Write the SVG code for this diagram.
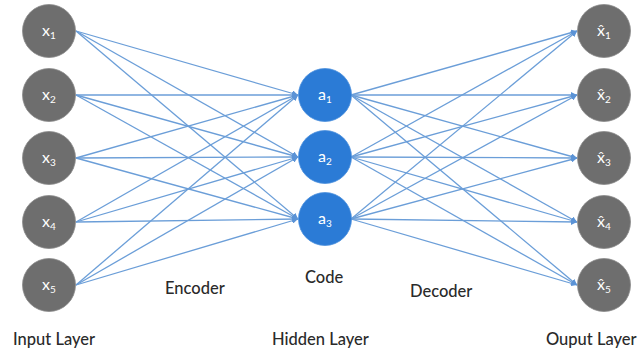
<svg xmlns="http://www.w3.org/2000/svg" width="640" height="351" viewBox="0 0 640 351">
  <style>
    .edge { stroke: #6b9ed8; stroke-width: 1.3; fill: none; marker-end: url(#arrow); }
    .in, .out { fill: #6e6e6e; stroke: #8a8a8a; stroke-width: 0.8; }
    .hid { fill: #2b7bd6; stroke: #4d90dd; stroke-width: 0.8; }
    .lbl { fill: #ffffff; font-family: Lato, "Open Sans", "Liberation Sans", sans-serif; font-size: 16px; text-anchor: middle; }
    .sub { font-size: 10px; }
    .cap { fill: #2a2a2a; font-family: Lato, "Open Sans", "Liberation Sans", sans-serif; font-size: 16.5px; font-weight: 500; }
  </style>
  <defs>
    <marker id="arrow" viewBox="0 0 10 10" refX="10" refY="5" markerWidth="6" markerHeight="6" markerUnits="userSpaceOnUse" orient="auto">
      <path d="M0,0 L10,5 L0,10 z" fill="#5b93d6"/>
    </marker>
  </defs>

  <rect width="640" height="351" fill="#ffffff"/>

  <g id="connectors">
    <!-- encoder: every input to every hidden unit -->
    <line class="edge" x1="76" y1="31" x2="298" y2="95"/>
    <line class="edge" x1="76" y1="31" x2="298" y2="157"/>
    <line class="edge" x1="76" y1="31" x2="298" y2="219"/>
    <line class="edge" x1="76" y1="95" x2="298" y2="95"/>
    <line class="edge" x1="76" y1="95" x2="298" y2="157"/>
    <line class="edge" x1="76" y1="95" x2="298" y2="219"/>
    <line class="edge" x1="76" y1="158" x2="298" y2="95"/>
    <line class="edge" x1="76" y1="158" x2="298" y2="157"/>
    <line class="edge" x1="76" y1="158" x2="298" y2="219"/>
    <line class="edge" x1="76" y1="222" x2="298" y2="95"/>
    <line class="edge" x1="76" y1="222" x2="298" y2="157"/>
    <line class="edge" x1="76" y1="222" x2="298" y2="219"/>
    <line class="edge" x1="76" y1="285" x2="298" y2="95"/>
    <line class="edge" x1="76" y1="285" x2="298" y2="157"/>
    <line class="edge" x1="76" y1="285" x2="298" y2="219"/>
    <!-- decoder: every hidden unit to every output -->
    <line class="edge" x1="351" y1="95" x2="577" y2="31"/>
    <line class="edge" x1="351" y1="95" x2="577" y2="95"/>
    <line class="edge" x1="351" y1="95" x2="577" y2="158"/>
    <line class="edge" x1="351" y1="95" x2="577" y2="222"/>
    <line class="edge" x1="351" y1="95" x2="577" y2="285"/>
    <line class="edge" x1="351" y1="157" x2="577" y2="31"/>
    <line class="edge" x1="351" y1="157" x2="577" y2="95"/>
    <line class="edge" x1="351" y1="157" x2="577" y2="158"/>
    <line class="edge" x1="351" y1="157" x2="577" y2="222"/>
    <line class="edge" x1="351" y1="157" x2="577" y2="285"/>
    <line class="edge" x1="351" y1="219" x2="577" y2="31"/>
    <line class="edge" x1="351" y1="219" x2="577" y2="95"/>
    <line class="edge" x1="351" y1="219" x2="577" y2="158"/>
    <line class="edge" x1="351" y1="219" x2="577" y2="222"/>
    <line class="edge" x1="351" y1="219" x2="577" y2="285"/>
  </g>

  <!-- input layer -->
  <g id="x1"><circle class="in" cx="49" cy="31" r="26.5"/><text class="lbl" x="49" y="36">x<tspan class="sub" dy="3">1</tspan></text></g>
  <g id="x2"><circle class="in" cx="49" cy="95" r="26.5"/><text class="lbl" x="49" y="100">x<tspan class="sub" dy="3">2</tspan></text></g>
  <g id="x3"><circle class="in" cx="49" cy="158" r="26.5"/><text class="lbl" x="49" y="163">x<tspan class="sub" dy="3">3</tspan></text></g>
  <g id="x4"><circle class="in" cx="49" cy="222" r="26.5"/><text class="lbl" x="49" y="227">x<tspan class="sub" dy="3">4</tspan></text></g>
  <g id="x5"><circle class="in" cx="49" cy="285" r="26.5"/><text class="lbl" x="49" y="290">x<tspan class="sub" dy="3">5</tspan></text></g>

  <!-- hidden layer (code) -->
  <g id="a1"><circle class="hid" cx="325" cy="95" r="26.5"/><text class="lbl" x="325" y="100">a<tspan class="sub" dy="3">1</tspan></text></g>
  <g id="a2"><circle class="hid" cx="325" cy="157" r="26.5"/><text class="lbl" x="325" y="162">a<tspan class="sub" dy="3">2</tspan></text></g>
  <g id="a3"><circle class="hid" cx="325" cy="219" r="26.5"/><text class="lbl" x="325" y="224">a<tspan class="sub" dy="3">3</tspan></text></g>

  <!-- output layer (reconstruction) -->
  <g id="xh1"><circle class="out" cx="604" cy="31" r="26.5"/><text class="lbl" x="604" y="36">x̂<tspan class="sub" dy="3">1</tspan></text></g>
  <g id="xh2"><circle class="out" cx="604" cy="95" r="26.5"/><text class="lbl" x="604" y="100">x̂<tspan class="sub" dy="3">2</tspan></text></g>
  <g id="xh3"><circle class="out" cx="604" cy="158" r="26.5"/><text class="lbl" x="604" y="163">x̂<tspan class="sub" dy="3">3</tspan></text></g>
  <g id="xh4"><circle class="out" cx="604" cy="222" r="26.5"/><text class="lbl" x="604" y="227">x̂<tspan class="sub" dy="3">4</tspan></text></g>
  <g id="xh5"><circle class="out" cx="604" cy="285" r="26.5"/><text class="lbl" x="604" y="290">x̂<tspan class="sub" dy="3">5</tspan></text></g>

  <!-- captions -->
  <g id="captions">
    <text class="cap" x="165" y="294">Encoder</text>
    <text class="cap" x="305" y="283">Code</text>
    <text class="cap" x="410" y="297">Decoder</text>
    <text class="cap" x="13" y="345">Input Layer</text>
    <text class="cap" x="272" y="345">Hidden Layer</text>
    <text class="cap" x="546" y="345">Ouput Layer</text>
  </g>
</svg>
